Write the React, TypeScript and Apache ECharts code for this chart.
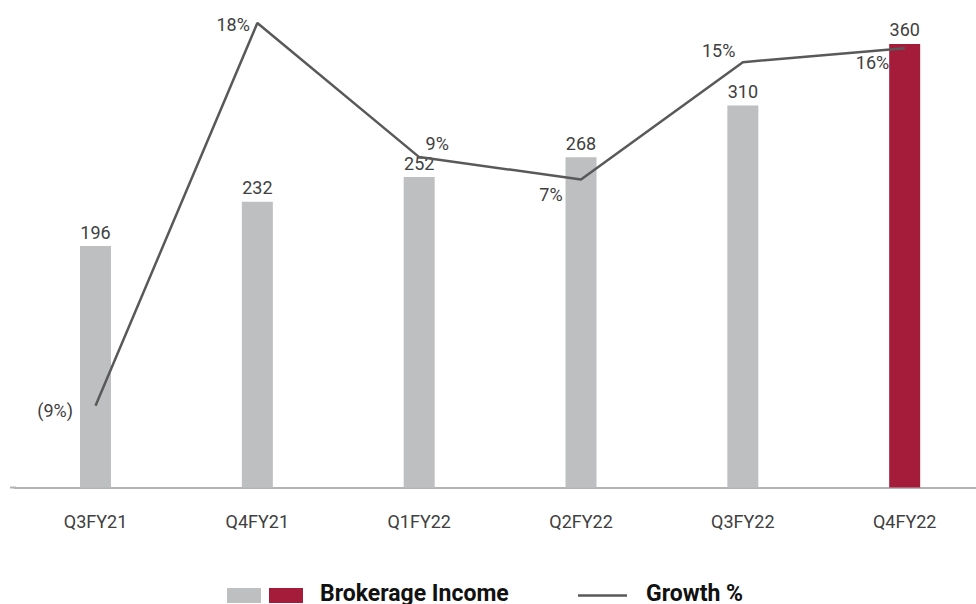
import React, { useEffect, useRef } from "react";
import * as echarts from "echarts";

const categories = ["Q3FY21", "Q4FY21", "Q1FY22", "Q2FY22", "Q3FY22", "Q4FY22"];
const brokerageIncome = [196, 232, 252, 268, 310, 360];
const growthPct = [-9.2, 18.2, 8.6, 7.0, 15.4, 16.4];

const GRAY = "#BEBFC1";
const CRIMSON = "#A51C3B";
const LINE = "#595959";
const TEXT = "#404040";

const fmtPct = (v: number) => {
  const r = Math.round(v);
  return r < 0 ? `(${Math.abs(r)}%)` : `${r}%`;
};

// label placement for each growth point (style only)
const growthLabelLayout: any[] = [
  { position: "left", distance: 22, offset: [0, 5] },
  { position: "left", distance: 7, offset: [0, 1] },
  { position: "top", distance: 4, offset: [18, 0] },
  { position: "bottom", distance: 6, offset: [-30, 0] },
  { position: "left", distance: 7, offset: [0, -12] },
  { position: "left", distance: 15, offset: [0, 14] },
];

export default function App() {
  const ref = useRef<HTMLDivElement>(null);
  useEffect(() => {
    if (!ref.current) return;
    const chart = echarts.init(ref.current, undefined, { renderer: "svg" });
    const font = "Roboto";
    chart.setOption({
      animation: false,
      textStyle: { fontFamily: font },
      grid: { left: 14.6, top: 0, width: 971, height: 487.5 },
      xAxis: {
        type: "category",
        data: categories,
        axisTick: { show: false },
        axisLine: { show: true, lineStyle: { color: "#B4B4B4", width: 2 } },
        axisLabel: { color: TEXT, fontSize: 18, margin: 25, fontFamily: font },
      },
      yAxis: [
        { type: "value", min: 0, max: 395.7, show: false, splitLine: { show: false } },
        { type: "value", min: -15.06, max: 19.85, show: false, splitLine: { show: false } },
      ],
      graphic: [
        { type: "line", shape: { x1: 10, y1: 487.5, x2: 16, y2: 487.5 }, style: { stroke: "#B4B4B4", lineWidth: 2 } },
        { type: "rect", shape: { x: 227, y: 588, width: 34, height: 15 }, style: { fill: GRAY } },
        { type: "rect", shape: { x: 269, y: 588, width: 34, height: 15 }, style: { fill: CRIMSON } },
        {
          type: "text",
          x: 320,
          y: 593,
          style: {
            text: "Brokerage Income",
            fill: "#111",
            font: `bold 23px ${font}`,
            verticalAlign: "middle",
          },
        },
        {
          type: "line",
          shape: { x1: 578, y1: 595.5, x2: 627, y2: 595.5 },
          style: { stroke: LINE, lineWidth: 2.5 },
        },
        {
          type: "text",
          x: 646,
          y: 593,
          style: {
            text: "Growth %",
            fill: "#111",
            font: `bold 23px ${font}`,
            verticalAlign: "middle",
          },
        },
      ],
      series: [
        {
          type: "bar",
          name: "Brokerage Income",
          yAxisIndex: 0,
          barWidth: 31,
          data: brokerageIncome.map((v, i) => ({
            value: v,
            itemStyle: { color: i === brokerageIncome.length - 1 ? CRIMSON : GRAY },
          })),
          label: {
            show: true,
            position: "top",
            distance: 5,
            color: TEXT,
            fontSize: 18,
            fontFamily: font,
          },
          z: 2,
        },
        {
          type: "line",
          name: "Growth %",
          yAxisIndex: 1,
          data: growthPct.map((v, i) => ({
            value: v,
            label: { show: true, ...growthLabelLayout[i] },
          })),
          symbol: "circle",
          showSymbol: true,
          symbolSize: 1,
          itemStyle: { color: "transparent" },
          lineStyle: { color: LINE, width: 2.5 },
          label: {
            show: true,
            color: TEXT,
            fontSize: 18,
            fontFamily: font,
            formatter: (p: any) => fmtPct(p.value),
          },
          z: 3,
        },
      ],
    });
    return () => chart.dispose();
  }, []);
  return (
    <div style={{ position: "fixed", left: 0, top: 0, width: 976, height: 604, overflow: "hidden", background: "#fff" }}>
      <div ref={ref} style={{ position: "absolute", left: 0, top: 0, width: 986, height: 604 }} />
    </div>
  );
}
